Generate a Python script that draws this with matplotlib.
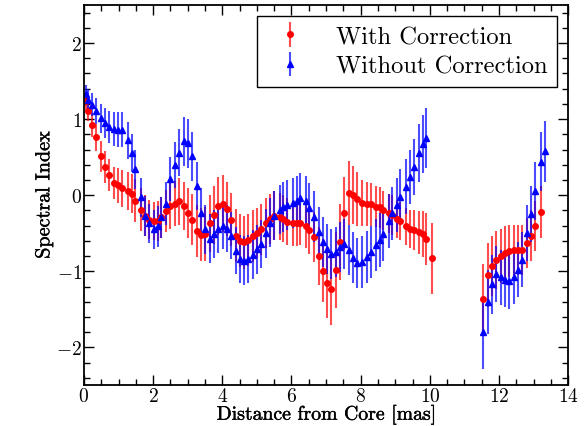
import matplotlib
matplotlib.use("Agg")
import matplotlib.pyplot as plt
import matplotlib.patheffects as pe
from matplotlib.ticker import MultipleLocator

plt.rcParams["font.family"] = "serif"
plt.rcParams["font.serif"] = ["cmr10"]
plt.rcParams["mathtext.fontset"] = "cm"
plt.rcParams["axes.formatter.use_mathtext"] = True

# distance from core [mas], inner jet
dist_left = [0.06, 0.12, 0.23, 0.35, 0.49, 0.61, 0.72, 0.87, 0.98, 1.10,
             1.26, 1.38, 1.49, 1.64, 1.76, 1.88, 2.02, 2.13, 2.24, 2.37,
             2.50, 2.62, 2.74, 2.89, 3.01, 3.13, 3.27, 3.38, 3.49, 3.64,
             3.75, 3.87, 4.02, 4.14, 4.24, 4.41, 4.52, 4.64, 4.74, 4.89,
             5.00, 5.13, 5.27, 5.39, 5.50, 5.66, 5.76, 5.88, 6.04, 6.16,
             6.26, 6.42, 6.52, 6.64, 6.79, 6.91, 7.02, 7.14, 7.29, 7.41,
             7.52, 7.67, 7.78, 7.89, 8.05, 8.17, 8.29, 8.43, 8.55, 8.65,
             8.81, 8.92, 9.05, 9.14, 9.31, 9.42, 9.54, 9.68, 9.80, 9.90,
             10.07]
# outer component
dist_right = [11.53, 11.69, 11.80, 11.91, 12.07, 12.17, 12.29, 12.43, 12.55,
              12.65, 12.82, 12.93, 13.05, 13.20, 13.33]

with_left = [1.24, 1.11, 0.92, 0.76, 0.51, 0.37, 0.27, 0.16, 0.13, 0.09,
             0.05, 0.02, -0.07, -0.19, -0.27, -0.32, -0.34, -0.34, -0.29, -0.21,
             -0.14, -0.11, -0.08, -0.14, -0.23, -0.32, -0.47, -0.52, -0.51, -0.37,
             -0.26, -0.14, -0.11, -0.18, -0.32, -0.53, -0.60, -0.62, -0.59, -0.54,
             -0.50, -0.45, -0.37, -0.31, -0.27, -0.28, -0.31, -0.35, -0.37, -0.37,
             -0.36, -0.40, -0.46, -0.55, -0.80, -0.99, -1.16, -1.23, -0.98, -0.62,
             -0.24, 0.03, 0.00, -0.05, -0.10, -0.12, -0.12, -0.15, -0.16, -0.20,
             -0.24, -0.26, -0.31, -0.34, -0.41, -0.45, -0.46, -0.49, -0.51, -0.58,
             -0.83]
with_left_err = [0.12, 0.14, 0.16, 0.18, 0.20, 0.21, 0.21, 0.21, 0.23, 0.24,
                 0.25, 0.26, 0.28, 0.28, 0.27, 0.26, 0.25, 0.26, 0.27, 0.28,
                 0.30, 0.30, 0.31, 0.32, 0.33, 0.34, 0.34, 0.35, 0.36, 0.37,
                 0.38, 0.38, 0.37, 0.36, 0.35, 0.35, 0.35, 0.35, 0.34, 0.34,
                 0.33, 0.33, 0.33, 0.33, 0.32, 0.31, 0.31, 0.31, 0.30, 0.30,
                 0.30, 0.30, 0.31, 0.33, 0.38, 0.42, 0.46, 0.47, 0.50, 0.50,
                 0.48, 0.42, 0.38, 0.35, 0.30, 0.29, 0.28, 0.27, 0.27, 0.26,
                 0.26, 0.26, 0.25, 0.25, 0.24, 0.25, 0.26, 0.28, 0.30, 0.34,
                 0.47]
with_right = [-1.36, -1.05, -0.93, -0.85, -0.80, -0.76, -0.73, -0.72, -0.72,
              -0.72, -0.63, -0.53, -0.40, -0.22]
with_right_err = [0.46, 0.42, 0.40, 0.38, 0.36, 0.35, 0.34, 0.33, 0.33,
                  0.33, 0.33, 0.33, 0.33, 0.34]

without_left = [1.33, 1.25, 1.19, 1.11, 1.01, 0.95, 0.90, 0.87, 0.86, 0.86,
                0.72, 0.56, 0.34, -0.03, -0.27, -0.37, -0.45, -0.41, -0.29, -0.11,
                0.21, 0.40, 0.56, 0.71, 0.68, 0.51, 0.12, -0.23, -0.45, -0.57,
                -0.51, -0.45, -0.40, -0.44, -0.53, -0.73, -0.84, -0.86, -0.84, -0.78,
                -0.71, -0.64, -0.50, -0.36, -0.27, -0.19, -0.16, -0.13, -0.10, -0.08,
                -0.04, -0.08, -0.17, -0.28, -0.48, -0.61, -0.71, -0.77, -0.75, -0.68,
                -0.64, -0.72, -0.82, -0.89, -0.88, -0.81, -0.75, -0.65, -0.59, -0.51,
                -0.34, -0.24, -0.13, -0.02, 0.11, 0.24, 0.37, 0.55, 0.67, 0.75]
without_left_err = [0.12, 0.14, 0.15, 0.17, 0.19, 0.20, 0.21, 0.22, 0.23, 0.23,
                    0.24, 0.25, 0.26, 0.26, 0.26, 0.26, 0.26, 0.27, 0.27, 0.28,
                    0.29, 0.30, 0.31, 0.32, 0.32, 0.32, 0.32, 0.32, 0.32, 0.32,
                    0.31, 0.31, 0.31, 0.31, 0.31, 0.31, 0.32, 0.32, 0.32, 0.32,
                    0.32, 0.32, 0.32, 0.32, 0.32, 0.32, 0.33, 0.33, 0.33, 0.33,
                    0.33, 0.33, 0.33, 0.33, 0.33, 0.33, 0.33, 0.33, 0.33, 0.33,
                    0.33, 0.33, 0.33, 0.33, 0.34, 0.34, 0.34, 0.34, 0.35, 0.35,
                    0.35, 0.35, 0.36, 0.36, 0.36, 0.36, 0.37, 0.38, 0.38, 0.39]
without_right = [-1.80, -1.40, -1.17, -1.04, -1.08, -1.11, -1.13, -1.07, -0.98,
                 -0.85, -0.50, -0.25, 0.05, 0.44, 0.58]
without_right_err = [0.48, 0.42, 0.39, 0.37, 0.36, 0.36, 0.36, 0.36, 0.36,
                     0.36, 0.37, 0.37, 0.38, 0.39, 0.40]

x_with = dist_left + dist_right[:len(with_right)]
y_with = with_left + with_right
e_with = with_left_err + with_right_err
x_without = dist_left[:len(without_left)] + dist_right
y_without = without_left + without_right
e_without = without_left_err + without_right_err

fig = plt.figure(figsize=(5.87, 4.27), dpi=100)
ax = fig.add_axes([0.143, 0.095, 0.825, 0.891])

ax.errorbar(x_with, y_with, yerr=e_with, fmt="o", color="red", ms=4,
            ecolor=(1, 0, 0, 0.7), elinewidth=1.5, capsize=0,
            label="With Correction")
ax.errorbar(x_without, y_without, yerr=e_without, fmt="^", color="blue", ms=5,
            ecolor=(0, 0, 1, 0.7), elinewidth=1.5, capsize=0,
            label="Without Correction")

ax.set_xlim(0, 14)
ax.set_ylim(-2.5, 2.5)
ax.xaxis.set_major_locator(MultipleLocator(2))
ax.xaxis.set_minor_locator(MultipleLocator(0.5))
ax.yaxis.set_major_locator(MultipleLocator(1))
ax.yaxis.set_minor_locator(MultipleLocator(0.2))
ax.tick_params(which="both", direction="in", top=True, right=True, width=1)
ax.tick_params(which="major", length=7, labelsize=14)
ax.tick_params(axis="x", which="major", pad=1)
ax.tick_params(axis="y", which="major", pad=1.5)
ax.tick_params(which="minor", length=4.5)
for s in ax.spines.values():
    s.set_linewidth(1.3)

bold = [pe.withStroke(linewidth=0.3, foreground="black")]
ax.set_xlabel("Distance from Core [mas]", fontsize=14.2, labelpad=0,
              path_effects=bold)
ax.set_ylabel("Spectral Index", fontsize=14.5, labelpad=2,
              path_effects=bold)

leg = ax.legend(loc="upper right", fontsize=17.7, fancybox=False,
                edgecolor="black", framealpha=1, handlelength=1.9,
                handletextpad=0.9, borderaxespad=0.45, labelspacing=0.3)
leg.get_frame().set_linewidth(1.0)

fig.savefig("out.png", dpi=100)
